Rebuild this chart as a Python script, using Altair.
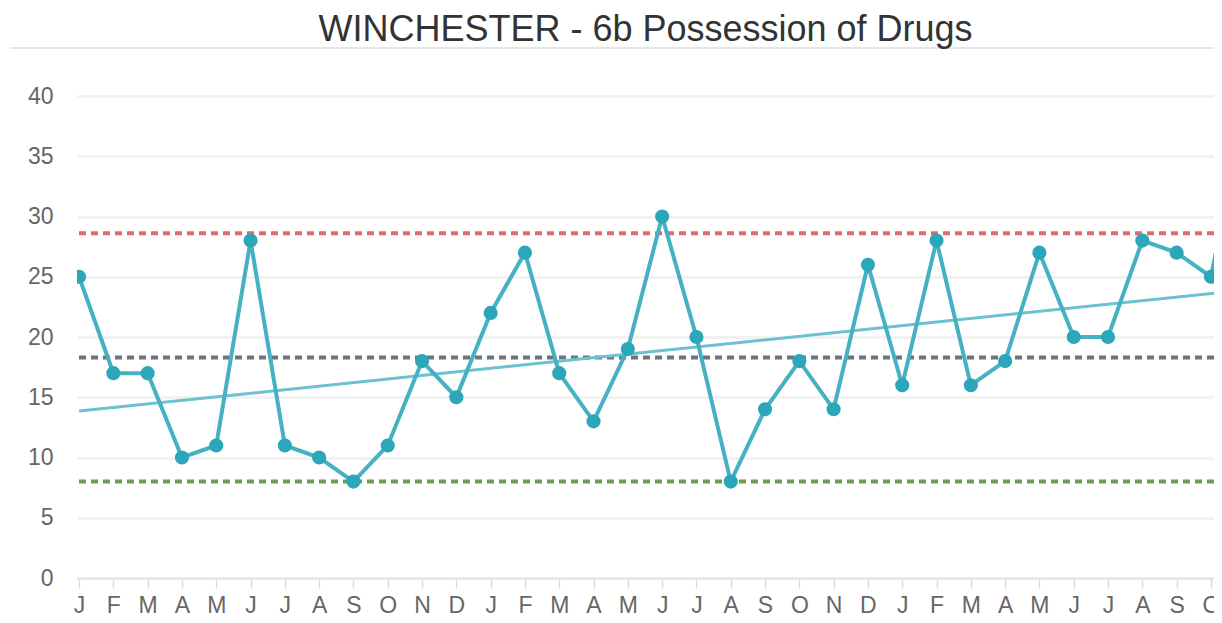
import altair as alt
import pandas as pd

# ---- data ----
months = ["J", "F", "M", "A", "M", "J", "J", "A", "S", "O", "N", "D",
          "J", "F", "M", "A", "M", "J", "J", "A", "S", "O", "N", "D",
          "J", "F", "M", "A", "M", "J", "J", "A", "S", "O", "N"]
counts = [25, 17, 17, 10, 11, 28, 11, 10, 8, 11, 18, 15,
          22, 27, 17, 13, 19, 30, 20, 8, 14, 18, 14, 26,
          16, 28, 16, 18, 27, 20, 20, 28, 27, 25, 39]
limit_kinds = ["upper", "mean", "lower"]
limit_levels = [28.6, 18.3, 8.0]
limit_colors = ["#e06a6a", "#6b7480", "#6e9e4f"]
trend_idx = [0, 34]
trend_vals = [13.85, 23.9]
y_ticks = [0, 5, 10, 15, 20, 25, 30, 35, 40]

df = pd.DataFrame({"idx": list(range(len(counts))), "month": months, "count": counts})
trend_df = pd.DataFrame({"idx": trend_idx, "trend": trend_vals})
limits_df = pd.DataFrame({"kind": limit_kinds, "level": limit_levels})
sep_df = pd.DataFrame({"a": [0]})

W, H = 1137, 482
x_dom = [-0.06, 33.09]
label_expr = "[" + ",".join("'%s'" % m for m in months) + "][datum.value]"
FONT = "Liberation Sans"

x_enc = alt.X(
    "idx:Q",
    scale=alt.Scale(domain=x_dom, nice=False, zero=False),
    axis=alt.Axis(
        values=list(range(len(counts))), labelExpr=label_expr, title=None, grid=False,
        domainColor="#e3e3e3", domainWidth=2, tickColor="#dcdcdc", tickSize=10, tickWidth=1.5,
        labelFontSize=23, labelColor="#666666", labelFont=FONT, labelPadding=6,
        labelFlush=False, labelOverlap=False,
    ),
)
y_scale = alt.Scale(domain=[0, 40], nice=False, zero=True)
y_axis = alt.Axis(
    values=y_ticks, title=None, domain=False, ticks=False, labelPadding=24,
    labelFontSize=23, labelColor="#666666", labelFont=FONT,
    gridColor="#f2f2f2", gridWidth=3,
)

limits = alt.Chart(limits_df).mark_rule(strokeWidth=4, strokeDash=[7, 5]).encode(
    y=alt.Y("level:Q", scale=y_scale, axis=y_axis),
    color=alt.Color("kind:N", scale=alt.Scale(domain=limit_kinds, range=limit_colors), legend=None),
)

trend = alt.Chart(trend_df).mark_line(color="#6cc2d0", strokeWidth=3, clip=True).encode(
    x=x_enc, y=alt.Y("trend:Q", scale=y_scale)
)

line = alt.Chart(df).mark_line(color="#45b1c2", strokeWidth=4, clip=True).encode(
    x=x_enc, y=alt.Y("count:Q", scale=y_scale)
)

points = alt.Chart(df).mark_circle(color="#2ba7b9", size=200, opacity=1, clip=True).encode(
    x=x_enc, y=alt.Y("count:Q", scale=y_scale)
)

sep = alt.Chart(sep_df).mark_rule(color="#e6e6e6", strokeWidth=2).encode(
    x=alt.value(-67), x2=alt.value(W), y=alt.value(-48)
)

chart = alt.layer(limits, trend, line, points, sep).properties(
    width=W, height=H,
    autosize="none",
    padding={"left": 69, "top": 88, "right": 0, "bottom": 40},
    title=alt.TitleParams(
        "WINCHESTER - 6b Possession of Drugs", fontSize=36, font=FONT, fontWeight="normal",
        color="#333333", anchor="middle", frame="group", offset=-2,
    ),
    background="white",
).configure_view(stroke=None)

chart.save("out.html", embed_options={"renderer": "svg", "actions": False})
